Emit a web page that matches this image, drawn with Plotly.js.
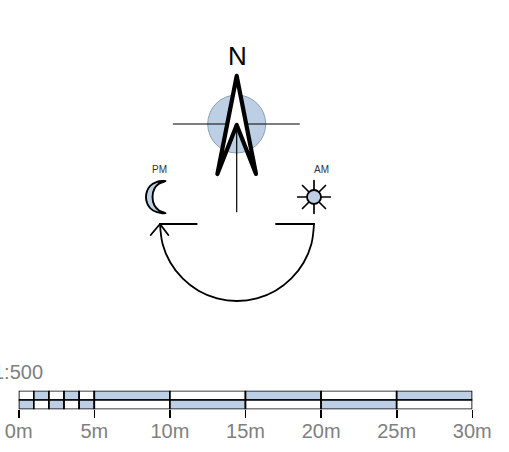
<!DOCTYPE html>
<html><head><meta charset="utf-8">
<script src="https://cdn.plot.ly/plotly-3.0.1.min.js"></script>
<style>html,body{margin:0;padding:0;background:#fff}
.js-line{stroke-linejoin:round!important;stroke-linecap:round!important}</style></head>
<body><div id="chart" style="width:509px;height:452px"></div>
<script>
const BLUE = '#bccfe4';
// scale bar (metres)
const scaleTicks = [0, 5, 10, 15, 20, 25, 30];
const scaleLabels = ['0m', '5m', '10m', '15m', '20m', '25m', '30m'];
const segStart = [0, 1, 2, 3, 4, 5, 10, 15, 20, 25];
const segLen = [1, 1, 1, 1, 1, 5, 5, 5, 5, 5];
const topFilled = [0, 1, 0, 1, 0, 1, 0, 1, 0, 1];
const scaleText = '1:500';
// compass drawing
const arrowX = [236.7, 256, 236.7, 217.4, 236.7];
const arrowY = [76, 174, 125, 174, 76];
const crossX = [173.3, 299.3, null, 236.7, 236.7];
const crossY = [124, 124, null, 124, 211.7];
const discX = [236.7];
const discY = [124];
const moonX = [165.7, 157, 150, 146, 150, 157, 165.7, 159, 154.5, 152.5, 154.5, 159, 165.7];
const moonY = [181, 181.8, 186, 197, 208, 212.2, 213.3, 210.4, 205.5, 197, 188.5, 183.6, 181];
const sunX = [314];
const sunY = [197];
const raysX = [314, 314, null, 297.7, 330.3, null, 302.5, 325.5, null, 302.5, 325.5];
const raysY = [180.7, 213.3, null, 197, 197, null, 185.5, 208.5, null, 208.5, 185.5];
const arcX = [314, 311.4, 303.7, 291.4, 275.5, 256.9, 237, 217.1, 198.5, 182.6, 170.3, 162.6, 160];
const arcY = [224, 243.9, 262.5, 278.4, 290.7, 298.4, 301, 298.4, 290.7, 278.4, 262.5, 243.9, 224];
const headX = [276, 314, null, 196.7, 160, null, 150.7, 160, 168.3];
const headY = [224, 224, null, 224, 224, null, 235, 224, 235];

const seg = (row, flags) => ({
  type: 'bar', orientation: 'h', xaxis: 'x2', yaxis: 'y2', cliponaxis: false,
  y: segStart.map(() => row), x: segLen, base: segStart, width: 1,
  marker: {color: flags.map(f => f ? BLUE : '#ffffff'), line: {color: '#000', width: 1.7}},
  hoverinfo: 'skip', showlegend: false
});
const line = (x, y, width, extra) => Object.assign(
  {type: 'scatter', mode: 'lines', x, y, line: {color: '#000', width}, hoverinfo: 'skip', showlegend: false}, extra || {});
const dot = (x, y, size, lineColor, w) => ({
  type: 'scatter', mode: 'markers', x, y,
  marker: {size, color: BLUE, line: {color: lineColor, width: w}}, hoverinfo: 'skip', showlegend: false
});

const traces = [
  dot(discX, discY, 58, '#8f9fb0', 1),
  line(crossX, crossY, 1.2),
  line(arrowX, arrowY, 4.2, {fill: 'toself', fillcolor: '#ffffff'}),
  line(moonX, moonY, 1.9, {fill: 'toself', fillcolor: BLUE, line: {color: '#000', width: 1.9, shape: 'spline', smoothing: 1}}),
  line(raysX, raysY, 1.7),
  dot(sunX, sunY, 14, '#000', 1.8),
  line(arcX, arcY, 1.8, {line: {color: '#000', width: 1.8, shape: 'spline', smoothing: 1}}),
  line(headX, headY, 1.8),
  seg(1.5, topFilled),
  seg(0.5, topFilled.map(f => 1 - f))
];
const textFont = (size, color) => ({family: '"Liberation Sans", Arial, sans-serif', size, color});
const note = (x, y, text, size, color, xanchor) => ({
  x, y, xref: 'x', yref: 'y', text, showarrow: false, xanchor: xanchor || 'center', yanchor: 'middle',
  font: textFont(size, color)
});
const layout = {
  width: 509, height: 452, margin: {l: 0, r: 0, t: 0, b: 0},
  paper_bgcolor: '#fff', plot_bgcolor: 'rgba(0,0,0,0)', showlegend: false, barmode: 'overlay',
  xaxis: {domain: [0, 1], range: [0, 509], visible: false, fixedrange: true},
  yaxis: {domain: [0, 1], range: [452, 0], visible: false, fixedrange: true},
  xaxis2: {
    domain: [18.7 / 509, 472.3 / 509], range: [0, 30], anchor: 'y2',
    tickmode: 'array', tickvals: scaleTicks, ticktext: scaleLabels,
    ticks: 'outside', ticklen: 8, tickwidth: 1.6, tickcolor: '#000',
    showgrid: false, zeroline: false, showline: false, ticklabelstandoff: -4,
    tickfont: textFont(20, '#808080'), fixedrange: true
  },
  yaxis2: {
    domain: [(452 - 409.3) / 452, (452 - 390.7) / 452], range: [0, 2], anchor: 'x2',
    visible: false, fixedrange: true
  },
  annotations: [
    note(237, 56, 'N', 26, '#000'),
    note(159, 169.5, 'PM', 10, '#333'),
    note(321.7, 169.5, 'AM', 10, '#333'),
    note(45, 371.5, scaleText, 20, '#808080', 'right')
  ]
};
Plotly.newPlot('chart', traces, layout, {displayModeBar: false, staticPlot: true});
</script></body></html>
